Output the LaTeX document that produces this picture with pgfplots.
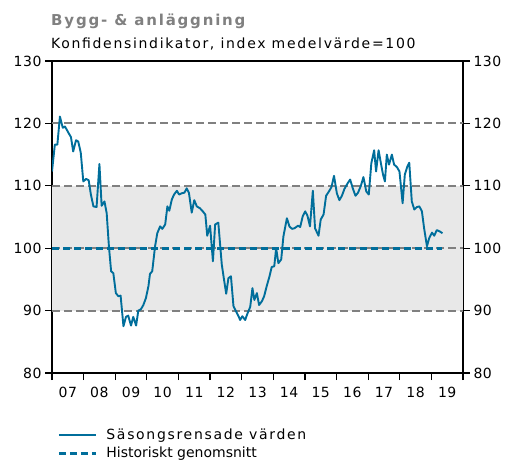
\documentclass[border=0pt]{standalone}
\usepackage{pgfplots}
\pgfplotsset{compat=1.18}
\usepackage{fontspec}
\setmainfont{DejaVu Sans}
\newfontfamily\titlefont[LetterSpace=12]{DejaVu Sans}
\newfontfamily\subfont[LetterSpace=12]{DejaVu Sans}
\newfontfamily\legsp[LetterSpace=12]{DejaVu Sans}
\newfontfamily\ticksp[LetterSpace=4]{DejaVu Sans}
\definecolor{sebblue}{RGB}{0,110,155}
\definecolor{gridgray}{RGB}{128,128,128}
\definecolor{bandgray}{RGB}{232,232,232}
\definecolor{titlegray}{RGB}{128,128,128}

\pgfplotstableread{
x y
2007.00 112.3
2007.09 116.6
2007.17 116.6
2007.25 121.1
2007.34 119.3
2007.41 119.5
2007.52 118.5
2007.60 117.8
2007.67 115.5
2007.76 117.3
2007.83 117.1
2007.91 115.3
2007.99 110.7
2008.08 111.1
2008.16 110.9
2008.23 108.6
2008.31 106.7
2008.41 106.6
2008.50 113.5
2008.57 106.8
2008.66 107.5
2008.73 105.6
2008.80 100.3
2008.87 96.3
2008.94 96.0
2009.02 92.8
2009.10 92.3
2009.17 92.4
2009.26 87.5
2009.34 89.0
2009.41 89.2
2009.50 87.6
2009.57 89.0
2009.66 87.6
2009.73 90.0
2009.81 90.2
2009.89 90.9
2009.97 92.0
2010.05 93.9
2010.10 95.9
2010.17 96.3
2010.26 100.3
2010.33 102.4
2010.42 103.5
2010.49 103.1
2010.58 103.8
2010.65 106.7
2010.71 106.0
2010.79 107.8
2010.86 108.6
2010.95 109.2
2011.02 108.6
2011.10 108.8
2011.19 108.9
2011.26 109.6
2011.33 108.9
2011.42 105.7
2011.50 107.7
2011.58 106.7
2011.68 106.4
2011.77 105.9
2011.85 105.4
2011.91 102.0
2012.00 103.6
2012.09 97.9
2012.16 103.8
2012.26 104.1
2012.37 97.4
2012.44 95.0
2012.51 92.7
2012.58 95.2
2012.66 95.5
2012.74 90.7
2012.82 89.9
2012.90 89.1
2012.95 88.5
2013.02 89.1
2013.11 88.5
2013.18 89.5
2013.27 90.6
2013.34 93.6
2013.40 91.7
2013.48 92.8
2013.55 90.9
2013.64 91.5
2013.71 92.3
2013.79 93.9
2013.88 95.5
2013.95 97.0
2014.03 97.1
2014.09 100.0
2014.16 97.6
2014.25 98.2
2014.32 101.9
2014.43 104.8
2014.51 103.5
2014.59 103.1
2014.67 103.2
2014.78 103.6
2014.85 103.4
2014.93 105.1
2015.01 105.9
2015.08 105.2
2015.16 103.5
2015.25 109.2
2015.32 103.2
2015.43 102.0
2015.50 104.6
2015.59 105.4
2015.67 108.4
2015.76 109.1
2015.84 109.8
2015.92 111.6
2016.01 108.8
2016.09 107.7
2016.17 108.4
2016.25 109.5
2016.35 110.4
2016.43 111.0
2016.52 109.5
2016.60 108.4
2016.68 108.9
2016.77 110.0
2016.85 111.4
2016.94 109.1
2017.02 108.6
2017.10 113.6
2017.19 115.7
2017.25 112.3
2017.33 115.7
2017.40 113.7
2017.47 111.8
2017.53 110.7
2017.59 115.0
2017.66 113.4
2017.75 115.0
2017.82 113.4
2017.91 113.0
2017.99 112.3
2018.09 107.2
2018.16 111.8
2018.24 113.1
2018.30 113.7
2018.38 107.5
2018.46 106.2
2018.54 106.6
2018.62 106.7
2018.70 105.9
2018.77 103.2
2018.86 100.3
2018.93 101.6
2019.02 102.5
2019.09 102.0
2019.17 102.9
2019.26 102.7
2019.35 102.4
}\seriesdata

\begin{document}
\begin{tikzpicture}
\path[use as bounding box] (-52bp,-90bp) rectangle (454bp,373bp);
\begin{axis}[
  at={(0,0)}, anchor=south west,
  scale only axis, width=411bp, height=312bp,
  xmin=2007, xmax=2020, ymin=80, ymax=130,
  xtick={2007,2008,...,2020}, xticklabels={},
  extra x ticks={2007.5,2008.5,2009.5,2010.5,2011.5,2012.5,2013.5,2014.5,2015.5,2016.5,2017.5,2018.5,2019.5},
  extra x tick labels={07,08,09,10,11,12,13,14,15,16,17,18,19},
  extra x tick style={major tick length=0pt, tick style={draw=none}, xticklabel style={yshift=-11bp}},
  xtick pos=left,
  ytick={80,90,...,130},
  tick align=outside, major tick length=7bp,
  axis line style={line width=1.4bp, black},
  tick style={line width=1.2bp, black},
  ticklabel style={font=\ticksp\fontsize{14bp}{16bp}\selectfont},
  /pgf/number format/assume math mode=true,
  legend style={draw=none, fill=none, at={(0.005,-0.165)}, anchor=north west,
    font=\fontsize{14bp}{16bp}\selectfont, row sep=2.5bp,
    /tikz/every odd column/.append style={column sep=7bp}},
  legend cell align=left,
  legend image code/.code={\draw[#1] (0bp,0bp) -- (37bp,0bp);},
]
\addplot[fill=bandgray, draw=none, forget plot] coordinates {(2007,90) (2020,90) (2020,110) (2007,110)} -- cycle;
\addplot[gridgray, line width=2bp, dash pattern=on 8bp off 4bp, forget plot] coordinates {(2007,90) (2020,90)};
\addplot[gridgray, line width=2bp, dash pattern=on 8bp off 4bp, forget plot] coordinates {(2007,100) (2020,100)};
\addplot[gridgray, line width=2bp, dash pattern=on 8bp off 4bp, forget plot] coordinates {(2007,110) (2020,110)};
\addplot[gridgray, line width=2bp, dash pattern=on 8bp off 4bp, forget plot] coordinates {(2007,120) (2020,120)};
\addplot[sebblue, line width=1.9bp, line join=round] table[x=x,y=y] {\seriesdata};
\addlegendentry{\legsp Säsongsrensade värden}
\addplot[sebblue, line width=3.2bp, dash pattern=on 7bp off 4bp] coordinates {(2007,100) (2019.35,100)};
\addlegendentry{Historiskt genomsnitt}
\end{axis}
\begin{axis}[
  at={(0,0)}, anchor=south west,
  scale only axis, width=411bp, height=312bp,
  xmin=2007, xmax=2020, ymin=80, ymax=130,
  hide x axis, axis y line*=right,
  ytick={80,90,...,130},
  tick align=outside, major tick length=7bp,
  y axis line style={draw=none}, ytick style={draw=none},
  ticklabel style={font=\ticksp\fontsize{14bp}{16bp}\selectfont},
  /pgf/number format/assume math mode=true,
]
\end{axis}
\node[anchor=base west, inner sep=0pt, text=titlegray, font=\titlefont\bfseries\fontsize{15bp}{17bp}\selectfont] at (-1bp,347bp) {Bygg- \& anläggning};
\node[anchor=base west, inner sep=0pt, font=\subfont\fontsize{14bp}{16bp}\selectfont] at (-1bp,324bp) {Konfidensindikator, index medelvärde=100};
\end{tikzpicture}
\end{document}
